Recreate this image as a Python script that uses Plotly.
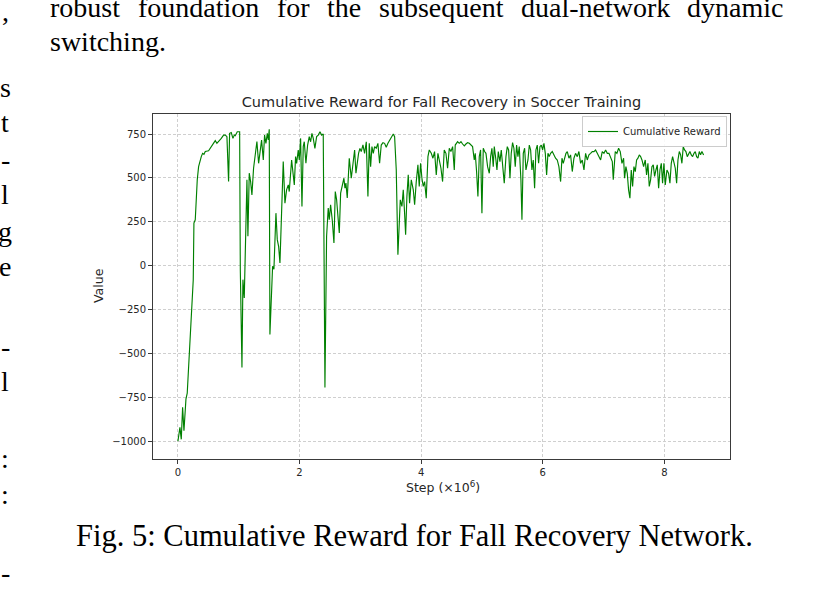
import plotly.graph_objects as go

# ---- data (steps in units of 10^6) ----
steps = [0.000, 0.033, 0.055, 0.077, 0.099, 0.132, 0.153, 0.214, 0.252, 0.263, 0.285, 0.318, 0.340, 0.384, 0.406, 0.428,
         0.450, 0.504, 0.548, 0.586, 0.614, 0.641, 0.669, 0.713, 0.751, 0.779, 0.806, 0.822, 0.833, 0.850, 0.877, 0.905,
         0.927, 0.943, 0.976, 1.015, 1.026, 1.053, 1.069, 1.091, 1.135, 1.151, 1.173, 1.195, 1.217, 1.244, 1.272, 1.299,
         1.327, 1.355, 1.376, 1.404, 1.425, 1.447, 1.470, 1.486, 1.502, 1.513, 1.557, 1.579, 1.612, 1.634, 1.656, 1.678,
         1.732, 1.760, 1.787, 1.815, 1.831, 1.870, 1.897, 1.914, 1.935, 1.952, 1.979, 1.996, 2.018, 2.040, 2.061, 2.078,
         2.105, 2.133, 2.160, 2.182, 2.204, 2.226, 2.253, 2.281, 2.308, 2.336, 2.363, 2.390, 2.418, 2.445, 2.472, 2.489,
         2.511, 2.538, 2.566, 2.588, 2.610, 2.632, 2.654, 2.676, 2.703, 2.730, 2.747, 2.763, 2.785, 2.818, 2.851, 2.878,
         2.906, 2.928, 2.950, 2.971, 2.993, 3.015, 3.043, 3.070, 3.098, 3.125, 3.147, 3.169, 3.191, 3.213, 3.235, 3.262,
         3.289, 3.317, 3.344, 3.372, 3.399, 3.426, 3.454, 3.481, 3.509, 3.542, 3.564, 3.591, 3.618, 3.635, 3.657, 3.684,
         3.706, 3.728, 3.745, 3.766, 3.788, 3.810, 3.838, 3.871, 3.893, 3.920, 3.947, 3.969, 3.991, 4.013, 4.035, 4.057,
         4.084, 4.112, 4.134, 4.167, 4.194, 4.221, 4.249, 4.276, 4.298, 4.326, 4.353, 4.380, 4.408, 4.435, 4.463, 4.490,
         4.518, 4.545, 4.561, 4.600, 4.627, 4.655, 4.682, 4.710, 4.737, 4.764, 4.792, 4.819, 4.846, 4.874, 4.890, 4.912,
         4.934, 4.956, 4.978, 5.000, 5.022, 5.044, 5.066, 5.093, 5.121, 5.143, 5.164, 5.186, 5.203, 5.230, 5.247, 5.269,
         5.296, 5.318, 5.340, 5.367, 5.395, 5.417, 5.439, 5.461, 5.482, 5.504, 5.526, 5.548, 5.570, 5.592, 5.614, 5.641,
         5.658, 5.680, 5.702, 5.724, 5.757, 5.779, 5.801, 5.822, 5.844, 5.866, 5.888, 5.910, 5.932, 5.954, 5.976, 5.998,
         6.020, 6.042, 6.064, 6.086, 6.107, 6.129, 6.157, 6.184, 6.211, 6.239, 6.266, 6.294, 6.316, 6.338, 6.360, 6.382,
         6.404, 6.431, 6.458, 6.486, 6.513, 6.540, 6.568, 6.595, 6.623, 6.650, 6.678, 6.705, 6.732, 6.760, 6.787, 6.815,
         6.842, 6.869, 6.897, 6.924, 6.952, 6.979, 7.007, 7.034, 7.062, 7.089, 7.116, 7.144, 7.160, 7.193, 7.220, 7.248,
         7.275, 7.303, 7.330, 7.346, 7.368, 7.390, 7.412, 7.434, 7.456, 7.478, 7.500, 7.522, 7.544, 7.566, 7.588, 7.610,
         7.632, 7.659, 7.686, 7.708, 7.730, 7.752, 7.774, 7.796, 7.818, 7.840, 7.862, 7.884, 7.906, 7.928, 7.950, 7.971,
         7.993, 8.015, 8.043, 8.070, 8.092, 8.114, 8.136, 8.158, 8.180, 8.202, 8.224, 8.246, 8.268, 8.289, 8.311, 8.333,
         8.355, 8.377, 8.399, 8.421, 8.443, 8.465, 8.487, 8.509, 8.531, 8.553, 8.575, 8.596, 8.618, 8.646]

reward = [-1000, -922, -990, -807, -941, -761, -727, -335, -80, 242, 261, 489, 564, 621, 640, 634,
          650, 654, 678, 700, 712, 697, 706, 725, 744, 744, 735, 583, 479, 754, 758, 725,
          744, 740, 763, 763, -23, -581, -80, -184, 489, 167, 527, 480, 403, 555, 621, 707,
          583, 660, 716, 602, 744, 697, 754, 716, 777, -392, -4, -20, 299, 148, 110, 15,
          593, 356, 432, 460, 422, 602, 517, 460, 621, 583, 659, 602, 725, 337, 678, 706,
          583, 687, 735, 706, 754, 725, 668, 735, 744, 763, 744, 750, -695, 167, 328, 261,
          347, 261, 129, 422, 375, 290, 186, 413, 460, 498, 441, 470, 385, 612, 498, 564,
          659, 527, 602, 640, 668, 650, 688, 640, 706, 394, 697, 564, 678, 640, 678, 669,
          697, 583, 687, 701, 697, 674, 697, 716, 735, 750, 735, 545, 62, 242, 375, 337,
          432, 299, 176, 394, 517, 356, 489, 432, 347, 479, 574, 451, 583, 498, 451, 479,
          384, 621, 659, 640, 612, 650, 517, 640, 602, 555, 479, 659, 640, 555, 669, 650,
          678, 545, 687, 706, 697, 706, 693, 682, 693, 701, 697, 687, 678, 602, 640, 536,
          394, 621, 659, 299, 669, 650, 640, 564, 526, 621, 669, 564, 678, 602, 545, 650,
          593, 659, 564, 470, 621, 678, 659, 498, 640, 701, 669, 564, 687, 621, 678, 489,
          261, 640, 669, 545, 602, 687, 659, 545, 602, 441, 659, 687, 583, 678, 687, 659,
          697, 640, 517, 640, 621, 640, 650, 631, 612, 602, 564, 479, 612, 583, 621, 640,
          650, 612, 631, 536, 612, 640, 621, 650, 583, 602, 545, 640, 602, 631, 640, 650,
          650, 659, 640, 621, 602, 650, 640, 659, 640, 640, 621, 593, 489, 650, 640, 669,
          650, 583, 612, 498, 564, 526, 432, 384, 545, 451, 564, 536, 602, 612, 631, 621,
          602, 564, 602, 517, 583, 451, 489, 564, 574, 508, 545, 574, 441, 545, 583, 470,
          583, 460, 545, 526, 470, 583, 621, 593, 555, 470, 602, 650, 631, 583, 678, 659,
          650, 621, 640, 650, 631, 621, 640, 650, 621, 612, 650, 631, 650, 630]

x_tick_vals = [0, 2, 4, 6, 8]
x_tick_text = ["0", "2", "4", "6", "8"]
y_tick_vals = [-1000, -750, -500, -250, 0, 250, 500, 750]
y_tick_text = ["\u22121000", "\u2212750", "\u2212500", "\u2212250", "0", "250", "500", "750"]

# surrounding page text
top_line_words = ["robust", "foundation", "for", "the", "subsequent", "dual-network", "dynamic"]
top_line_word_x = [48, 135.6, 274.5, 324.7, 376.5, 518.5, 685.4]
second_line = "switching."
caption = "Fig. 5: Cumulative Reward for Fall Recovery Network."
margin_chars = [",", "s", "t", "-", "l", "g", "e", "-", "l", ":", ":", "-"]
margin_char_y = [11, 87, 122, 159, 194, 231, 266, 346, 381, 458, 494, 572]

W, H = 829, 594
L, R, T, B = 153, 730, 114, 459


def px(xp):
    return (xp - L) / (R - L)


def py(yp):
    return (B - yp) / (B - T)


fig = go.Figure()
fig.add_trace(go.Scatter(x=steps, y=reward, mode="lines", name="Cumulative Reward",
                         line=dict(color="#008000", width=1.15)))

axis_common = dict(showline=True, linecolor="#3a3a3a", linewidth=1, mirror=True,
                   ticks="outside", ticklen=4, tickcolor="#3a3a3a", tickwidth=1,
                   showgrid=True, gridcolor="#cfcfcf", griddash="3px,2px", gridwidth=0.6,
                   zeroline=False, tickfont=dict(family="DejaVu Sans", size=10, color="#262626"))

fig.update_layout(
    width=W, height=H,
    margin=dict(l=L, r=W - R, t=T, b=H - B),
    paper_bgcolor="white", plot_bgcolor="white",
    showlegend=True,
    legend=dict(x=px(727), y=py(116), xanchor="right", yanchor="top",
                bgcolor="rgba(255,255,255,0.85)", bordercolor="#cccccc", borderwidth=1,
                font=dict(family="DejaVu Sans", size=10, color="#262626"),
                itemwidth=30, tracegroupgap=0),
    title=dict(text="Cumulative Reward for Fall Recovery in Soccer Training",
               x=0.5 * (L + R) / W, xanchor="center", y=1 - 102 / H, yanchor="middle",
               font=dict(family="DejaVu Sans", size=14.5, color="#262626")),
    xaxis=dict(range=[-0.41, 9.08], tickvals=x_tick_vals, ticktext=x_tick_text, **axis_common),
    yaxis=dict(range=[-1102, 864], tickvals=y_tick_vals, ticktext=y_tick_text, **axis_common),
)

ann = []
label_font = dict(family="DejaVu Sans", size=12.5, color="#262626")
ann.append(dict(text="Value", x=px(98), y=py(286), xref="paper", yref="paper", textangle=-90,
                showarrow=False, xanchor="center", yanchor="middle", font=label_font))
ann.append(dict(text="Step (\u00d710<sup>6</sup>)", x=px(443), y=py(487), xref="paper", yref="paper",
                showarrow=False, xanchor="center", yanchor="middle", font=label_font))

serif = dict(family="Liberation Serif", size=28, color="black")
for word, wx in zip(top_line_words, top_line_word_x):
    ann.append(dict(text=word, x=px(wx), y=py(7), xref="paper", yref="paper", showarrow=False,
                    xanchor="left", yanchor="middle", font=serif))
ann.append(dict(text=second_line, x=px(48), y=py(41), xref="paper", yref="paper", showarrow=False,
                xanchor="left", yanchor="middle", font=serif))
ann.append(dict(text=caption, x=px(414), y=py(536), xref="paper", yref="paper", showarrow=False,
                xanchor="center", yanchor="middle",
                font=dict(family="Liberation Serif", size=30.5, color="black")))
for ch, yy in zip(margin_chars, margin_char_y):
    ann.append(dict(text=ch, x=px(5), y=py(yy), xref="paper", yref="paper", showarrow=False,
                    xanchor="center", yanchor="middle", font=serif))
fig.update_layout(annotations=ann)

fig.write_html("out.html")
